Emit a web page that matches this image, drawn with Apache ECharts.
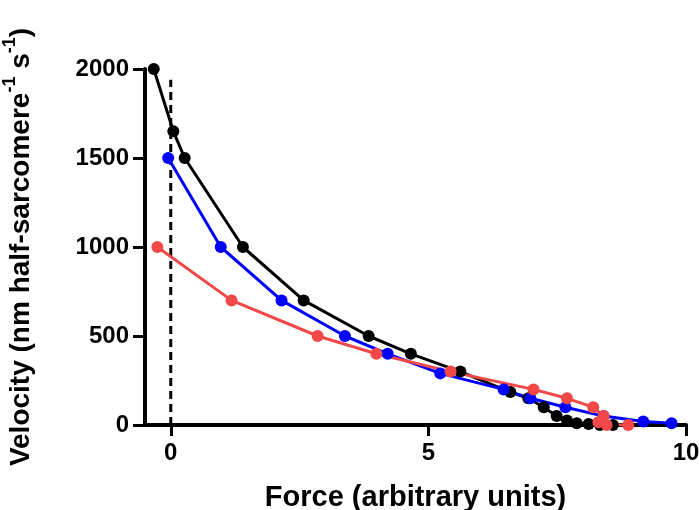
<!DOCTYPE html>
<html>
<head>
<meta charset="utf-8">
<script src="https://cdn.jsdelivr.net/npm/echarts@6/dist/echarts.min.js"></script>
<style>html,body{margin:0;padding:0;background:#fff}#c{width:699px;height:510px}</style>
</head>
<body>
<div id="c"></div>
<script>
// Force (x), Velocity (y)
var blackSeries = [[-0.33,2000],[0.05,1650],[0.27,1500],[1.40,1000],[2.58,700],[3.84,500],[4.66,400],[5.62,300],[6.59,185],[6.94,150],[7.24,100],[7.49,50],[7.69,25],[7.88,10],[8.11,5],[8.33,0],[8.58,0]];
var blueSeries = [[-0.05,1500],[0.97,1000],[2.15,700],[3.38,500],[4.21,400],[5.23,290],[6.46,200],[6.98,150],[7.66,100],[8.40,50],[9.17,20],[9.72,10]];
var redSeries = [[-0.26,1000],[1.18,700],[2.85,500],[3.99,400],[5.43,300],[7.04,200],[7.69,150],[8.20,100],[8.40,50],[8.30,15],[8.46,0],[8.88,0]];
var zeroLine = [[0,0],[0,1940]];
var xTicks = [0,5,10];
var yTicks = [0,500,1000,1500,2000];

var FONT = 'Arial, "Liberation Sans", sans-serif';
var chart = echarts.init(document.getElementById('c'));
function ser(data, color){
  return {type:'line', data:data, symbol:'circle', symbolSize:12, showSymbol:true,
    lineStyle:{color:color,width:3}, itemStyle:{color:color}, z:3, animation:false};
}
chart.setOption({
  animation:false,
  grid:{left:145,right:13,top:69,bottom:85,containLabel:false,outerBoundsMode:'none'},
  xAxis:{type:'value',min:-0.5,max:10,
    name:'Force (arbitrary units)',nameLocation:'middle',nameGap:58,
    nameTextStyle:{fontFamily:FONT,fontWeight:'bold',fontSize:29,color:'#000'},
    axisLine:{show:true,onZero:false,lineStyle:{color:'#000',width:4}},
    axisTick:{show:true,length:11,customValues:xTicks,lineStyle:{color:'#000',width:3}},
    axisLabel:{customValues:xTicks,fontFamily:FONT,fontWeight:'bold',fontSize:24,color:'#000',margin:16},
    splitLine:{show:false}},
  yAxis:{type:'value',min:0,max:2000,interval:500,
    name:'{a|Velocity (nm half-sarcomere}{s|-1}{a| s}{s|-1}{a|)}',nameLocation:'middle',nameGap:110,nameRotate:90,
    nameTextStyle:{fontFamily:FONT,fontWeight:'bold',fontSize:28,color:'#000',
      rich:{a:{fontFamily:FONT,fontWeight:'bold',fontSize:28,color:'#000',lineHeight:34,verticalAlign:'bottom'},
            s:{fontFamily:FONT,fontWeight:'bold',fontSize:18,color:'#000',lineHeight:34,verticalAlign:'top'}}},
    axisLine:{show:true,onZero:false,lineStyle:{color:'#000',width:4}},
    axisTick:{show:true,length:12,lineStyle:{color:'#000',width:3}},
    axisLabel:{formatter:function(v){return String(v);},fontFamily:FONT,fontWeight:'bold',fontSize:24,color:'#000',margin:16},
    splitLine:{show:false}},
  series:[
    {type:'line',data:zeroLine,symbol:'none',lineStyle:{color:'#000',width:3,type:[8,5]},z:2,animation:false},
    ser(blackSeries,'#000000'),
    ser(blueSeries,'#0000ff'),
    ser(redSeries,'#f24848')
  ]
});
</script>
</body>
</html>
